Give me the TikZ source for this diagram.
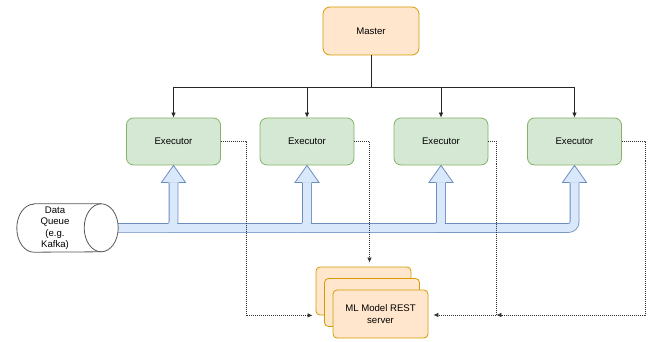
\documentclass[tikz,border=0pt]{standalone}
\usepackage{fontspec}
\setmainfont{Liberation Sans}
\usetikzlibrary{calc,arrows.meta}
\definecolor{ofill}{HTML}{FFE6CC}
\definecolor{ostroke}{HTML}{D79B00}
\definecolor{gfill}{HTML}{D5E8D4}
\definecolor{gstroke}{HTML}{82B366}
\definecolor{bfill}{HTML}{DAE8FC}
\definecolor{bstroke}{HTML}{6C8EBF}
\begin{document}
\begin{tikzpicture}[x=1pt,y=-1pt,
  box/.style={rectangle, rounded corners=7pt, minimum width=94pt, minimum height=47pt,
    line width=0.8pt, font=\fontsize{9.6}{11.6}\selectfont, align=center, inner sep=0pt},
  masterbox/.style={box, fill=ofill, draw=ostroke, minimum width=96pt, minimum height=48pt},
  execbox/.style={box, fill=gfill, draw=gstroke},
  mlbox/.style={box, fill=ofill, draw=ostroke, minimum width=95pt, minimum height=48pt, rounded corners=4pt},
  ctl/.style={draw=black!85, line width=0.7pt, -{Latex[length=5pt,width=4.5pt]}},
  dotline/.style={draw=black!80, line width=0.7pt, dash pattern=on 1pt off 1pt, -{Latex[length=5pt,width=4.5pt]}},
  cyl/.style={draw=black!65, fill=white, line width=0.8pt},
  shaftout/.style={draw=bstroke, line width=9.6pt, rounded corners=6pt},
  shaftin/.style={draw=bfill, line width=8pt, rounded corners=6pt},
]
\useasboundingbox (0,0) rectangle (656,342);

% nodes
\node[masterbox] (m) at (371,31) {Master};
\node[execbox] (e1) at (173.5,141.5) {Executor};
\node[execbox] (e2) at (307,141.5) {Executor};
\node[execbox] (e3) at (441,141.5) {Executor};
\node[execbox] (e4) at (574.5,141.5) {Executor};

\node[mlbox] (mlc) at (363.5,291) {};
\node[mlbox] (mlb) at (372,302.5) {};
\node[mlbox] (ml) at (380.5,314) {ML Model REST\\server};

\node[minimum width=101pt, minimum height=48pt, inner sep=0pt] (dq) at (67.5,228) {};

% blue flex arrows (shafts)
\foreach \e in {e1,e2,e3,e4}
  \draw[shaftout] (dq.east) -| ($(\e.south)+(0,17)$);
\foreach \e in {e1,e2,e3,e4}
  \draw[shaftin] (dq.east) -| ($(\e.south)+(0,17)$);
% heads
\foreach \e in {e1,e2,e3,e4} {
  \fill[bfill] (\e.south) -- ++(-12,17) -- ++(24,0) -- cycle;
  \draw[bstroke, line width=0.8pt, line join=miter]
    ($(\e.south)+(-4.8,17)$) -- ++(-7.2,0) -- (\e.south) -- ++(12,17) -- ++(-7.2,0);
}

% cylinder
\draw[cyl] ($(dq.north west)+(17,0)$) -- ($(dq.north east)+(-17,0)$)
  arc[start angle=90, end angle=-90, x radius=17pt, y radius=24pt]
  -- ($(dq.south west)+(17,0)$)
  arc[start angle=270, end angle=90, x radius=17pt, y radius=24pt] -- cycle;
\draw[cyl, fill=none] ($(dq.north east)+(-17,0)$)
  arc[start angle=90, end angle=270, x radius=17pt, y radius=24pt];
\node[font=\fontsize{9.6}{11.4}\selectfont, align=center, inner sep=0pt] (dqt) at (55,228)
  {Data\\Queue\\(e.g.\\Kafka)};

% master to executors
\foreach \e in {e1,e2,e3,e4}
  \draw[ctl] (m.south) -- ++(0,32) -| (\e.north);

% executors to ML model (dotted)
\coordinate (mlleft) at ($(mlc.south west)+(-3,0)$);
\coordinate (mlright) at ($(ml.east)+(5,1)$);
\coordinate (mltop) at ($(mlc.north)+(6,-4)$);
\coordinate (j0) at ($(e3.east)+(8,0)$);
\coordinate (j) at (j0 |- mlright);

\draw[dotline] (e1.east) -- ++(25,0) |- (mlleft);
\draw[dotline] (e2.east) -| (mltop);
\draw[dotline] (e3.east) -| (j) -- (mlright);
\draw[dotline] (e4.east) -- ++(23,0) |- (j);
\end{tikzpicture}
\end{document}
